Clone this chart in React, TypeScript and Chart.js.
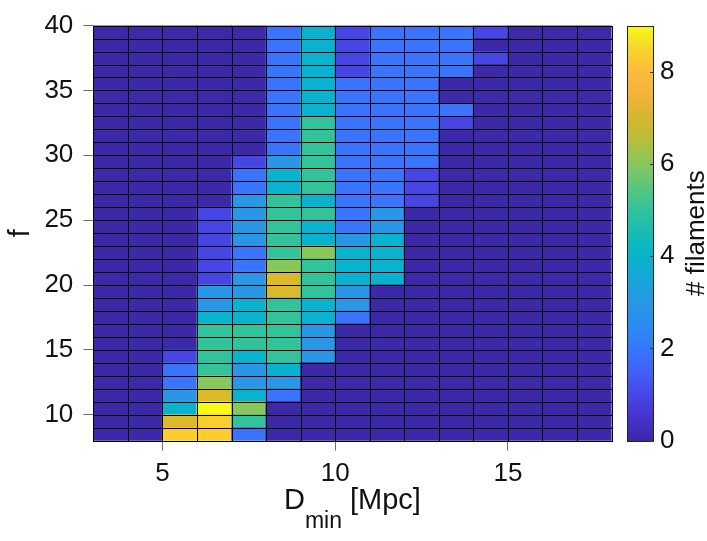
import React, { useEffect, useRef } from 'react';
import { Chart, registerables } from 'chart.js';

Chart.register(...registerables);

// ---- data ----
const D_MIN = [3.5, 4.5, 5.5, 6.5, 7.5, 8.5, 9.5, 10.5, 11.5, 12.5, 13.5, 14.5, 15.5, 16.5, 17.5];
const F_VALUES = [8.5, 9.5, 10.5, 11.5, 12.5, 13.5, 14.5, 15.5, 16.5, 17.5, 18.5, 19.5, 20.5, 21.5, 22.5, 23.5,
  24.5, 25.5, 26.5, 27.5, 28.5, 29.5, 30.5, 31.5, 32.5, 33.5, 34.5, 35.5, 36.5, 37.5, 38.5, 39.5];
const BIN_WIDTH = 1;
const X_TICKS = [5, 10, 15];
const Y_TICKS = [10, 15, 20, 25, 30, 35, 40];
const CB_TICKS = [0, 2, 4, 6, 8];
const CB_MAX = 9;
// one row per f bin (bottom to top), one value per D_min bin
const COUNTS = [
  [0, 0, 8, 8, 2, 0, 0, 0, 0, 0, 0, 0, 0, 0, 0],
  [0, 0, 7, 8, 5, 0, 0, 0, 0, 0, 0, 0, 0, 0, 0],
  [0, 0, 4, 9, 6, 0, 0, 0, 0, 0, 0, 0, 0, 0, 0],
  [0, 0, 3, 7, 4, 2, 0, 0, 0, 0, 0, 0, 0, 0, 0],
  [0, 0, 2, 6, 3, 3, 0, 0, 0, 0, 0, 0, 0, 0, 0],
  [0, 0, 2, 5, 3, 4, 0, 0, 0, 0, 0, 0, 0, 0, 0],
  [0, 0, 1, 5, 4, 5, 3, 0, 0, 0, 0, 0, 0, 0, 0],
  [0, 0, 0, 5, 5, 5, 3, 0, 0, 0, 0, 0, 0, 0, 0],
  [0, 0, 0, 5, 5, 5, 3, 0, 0, 0, 0, 0, 0, 0, 0],
  [0, 0, 0, 4, 4, 5, 4, 2, 0, 0, 0, 0, 0, 0, 0],
  [0, 0, 0, 3, 4, 5, 4, 3, 0, 0, 0, 0, 0, 0, 0],
  [0, 0, 0, 3, 3, 7, 5, 3, 0, 0, 0, 0, 0, 0, 0],
  [0, 0, 0, 1, 3, 7, 5, 4, 4, 0, 0, 0, 0, 0, 0],
  [0, 0, 0, 1, 2, 6, 5, 4, 4, 0, 0, 0, 0, 0, 0],
  [0, 0, 0, 1, 2, 5, 6, 4, 4, 0, 0, 0, 0, 0, 0],
  [0, 0, 0, 1, 3, 5, 4, 3, 4, 0, 0, 0, 0, 0, 0],
  [0, 0, 0, 1, 3, 5, 4, 2, 3, 0, 0, 0, 0, 0, 0],
  [0, 0, 0, 1, 3, 5, 5, 2, 3, 0, 0, 0, 0, 0, 0],
  [0, 0, 0, 0, 3, 5, 4, 2, 2, 1, 0, 0, 0, 0, 0],
  [0, 0, 0, 0, 2, 4, 5, 2, 2, 1, 0, 0, 0, 0, 0],
  [0, 0, 0, 0, 2, 4, 5, 2, 2, 1, 0, 0, 0, 0, 0],
  [0, 0, 0, 0, 1, 3, 5, 2, 2, 2, 0, 0, 0, 0, 0],
  [0, 0, 0, 0, 0, 2, 5, 2, 2, 2, 0, 0, 0, 0, 0],
  [0, 0, 0, 0, 0, 2, 5, 2, 2, 2, 0, 0, 0, 0, 0],
  [0, 0, 0, 0, 0, 2, 5, 2, 2, 2, 1, 0, 0, 0, 0],
  [0, 0, 0, 0, 0, 2, 4, 2, 2, 2, 2, 0, 0, 0, 0],
  [0, 0, 0, 0, 0, 2, 4, 2, 2, 2, 0, 0, 0, 0, 0],
  [0, 0, 0, 0, 0, 2, 4, 2, 2, 2, 0, 0, 0, 0, 0],
  [0, 0, 0, 0, 0, 2, 4, 1, 2, 2, 2, 0, 0, 0, 0],
  [0, 0, 0, 0, 0, 2, 4, 1, 2, 2, 2, 1, 0, 0, 0],
  [0, 0, 0, 0, 0, 2, 4, 1, 2, 2, 2, 0, 0, 0, 0],
  [0, 0, 0, 0, 0, 2, 4, 1, 2, 2, 2, 1, 0, 0, 0],
];

// ---- styles ----
const CELL_COLORS = ['#3d28a7', '#4745e4', '#3a73fc', '#2996e6', '#09b3cf', '#33c39b', '#87c85a', '#dbb92b', '#fdcd30', '#f8fa12'];
const CB_STOPS: [number, string][] = [
  [0, '#3e26a8'], [0.5, '#4434cc'], [1, '#4747e8'], [1.5, '#4160fa'], [2, '#3478fb'], [2.5, '#2a8cf0'],
  [3, '#2898e4'], [3.5, '#17a6da'], [4, '#07b3cc'], [4.5, '#18bbb3'], [5, '#33c29b'], [5.5, '#5ac67c'],
  [6, '#86c75c'], [6.5, '#b5bf3c'], [7, '#d6b62e'], [7.5, '#f4b23a'], [8, '#fcbc3a'], [8.5, '#f6d52c'], [9, '#f8fa12'],
];
const FONT = '"Liberation Sans", Arial, Helvetica, sans-serif';
const TICK_SIZE = 26;
const LABEL_SIZE = 29;
const TEXT_COLOR = '#111';

const cellGridPlugin = {
  id: 'cellGrid',
  afterDatasetsDraw(chart: any) {
    const { ctx, scales } = chart;
    const xs = scales.x, ys = scales.y;
    const xEdges = [D_MIN[0] - BIN_WIDTH / 2, ...D_MIN.map((d) => d + BIN_WIDTH / 2)];
    const yEdges = [F_VALUES[0] - BIN_WIDTH / 2, ...F_VALUES.map((f) => f + BIN_WIDTH / 2)];
    const x0 = Math.round(xs.getPixelForValue(xEdges[0]));
    const x1 = Math.round(xs.getPixelForValue(xEdges[xEdges.length - 1]));
    const y0 = Math.round(ys.getPixelForValue(yEdges[yEdges.length - 1]));
    const y1 = Math.round(ys.getPixelForValue(yEdges[0]));
    ctx.save();
    ctx.strokeStyle = '#000';
    ctx.lineWidth = 1;
    ctx.beginPath();
    xEdges.forEach((e) => {
      const p = Math.round(xs.getPixelForValue(e)) + 0.5;
      ctx.moveTo(p, y0);
      ctx.lineTo(p, y1 + 1);
    });
    yEdges.forEach((e) => {
      const p = Math.round(ys.getPixelForValue(e)) + 0.5;
      ctx.moveTo(x0, p);
      ctx.lineTo(x1 + 1, p);
    });
    ctx.stroke();
    ctx.restore();
  },
};

const overlayPlugin = {
  id: 'overlay',
  afterDraw(chart: any) {
    const { ctx, chartArea } = chart;
    ctx.save();
    // x-axis label with subscript
    const cx = (chartArea.left + chartArea.right) / 2;
    const baseY = 509;
    const subSize = Math.round(LABEL_SIZE * 0.78);
    ctx.fillStyle = TEXT_COLOR;
    ctx.textBaseline = 'alphabetic';
    ctx.textAlign = 'left';
    ctx.font = `${LABEL_SIZE}px ${FONT}`;
    const wD = ctx.measureText('D').width;
    const wRest = ctx.measureText(' [Mpc]').width;
    ctx.font = `${subSize}px ${FONT}`;
    const wSub = ctx.measureText('min').width;
    let x = cx - (wD + wSub + wRest) / 2;
    ctx.font = `${LABEL_SIZE}px ${FONT}`;
    ctx.fillText('D', x, baseY);
    x += wD;
    ctx.font = `${subSize}px ${FONT}`;
    ctx.fillText('min', x, baseY + 19);
    x += wSub;
    ctx.font = `${LABEL_SIZE}px ${FONT}`;
    ctx.fillText(' [Mpc]', x, baseY);

    // colorbar
    const cbL = 627, cbR = 654;
    const top = chartArea.top, bottom = chartArea.bottom;
    const valToY = (v: number) => bottom - (v / CB_MAX) * (bottom - top);
    const grad = ctx.createLinearGradient(0, bottom, 0, top);
    CB_STOPS.forEach(([v, c]) => grad.addColorStop(v / CB_MAX, c));
    ctx.fillStyle = grad;
    ctx.fillRect(cbL, Math.round(top), cbR - cbL, Math.round(bottom) - Math.round(top));
    ctx.strokeStyle = '#222';
    ctx.lineWidth = 1;
    ctx.strokeRect(cbL + 0.5, Math.round(top) + 0.5, cbR - cbL - 1, Math.round(bottom) - Math.round(top));
    ctx.strokeStyle = '#333';
    ctx.font = `${TICK_SIZE}px ${FONT}`;
    ctx.fillStyle = TEXT_COLOR;
    ctx.textAlign = 'left';
    ctx.textBaseline = 'middle';
    CB_TICKS.forEach((v) => {
      const y = Math.round(valToY(v)) + 0.5;
      ctx.beginPath();
      ctx.moveTo(cbR - 4, y);
      ctx.lineTo(cbR, y);
      ctx.stroke();
      ctx.fillText(String(v), cbR + 6, valToY(v));
    });
    ctx.save();
    ctx.translate(697, (top + bottom) / 2);
    ctx.rotate(-Math.PI / 2);
    ctx.textAlign = 'center';
    ctx.textBaseline = 'middle';
    ctx.font = `${TICK_SIZE}px ${FONT}`;
    ctx.fillText('# filaments', 0, 0);
    ctx.restore();
    ctx.restore();
  },
};

export default function App() {
  const canvasRef = useRef<HTMLCanvasElement | null>(null);

  useEffect(() => {
    if (!canvasRef.current) return;
    const datasets = F_VALUES.map((f, ri) => ({
      type: 'bar' as const,
      data: D_MIN.map((d, ci) => ({ x: d, y: [f - BIN_WIDTH / 2, f + BIN_WIDTH / 2], v: COUNTS[ri][ci] })),
      backgroundColor: (ctx: any) => (ctx.raw ? CELL_COLORS[ctx.raw.v] : CELL_COLORS[0]),
      borderWidth: 0,
      borderSkipped: false,
      grouped: false,
      barPercentage: 1,
      categoryPercentage: 1,
      inflateAmount: 0.5,
    }));

    const chart = new Chart(canvasRef.current, {
      type: 'bar',
      data: { datasets },
      options: {
        animation: false,
        responsive: false,
        maintainAspectRatio: false,
        layout: { padding: { top: 18.3, right: 95.4, left: 0, bottom: 0 } },
        plugins: { legend: { display: false }, tooltip: { enabled: false } },
        scales: {
          x: {
            type: 'linear',
            min: 3,
            max: 18,
            offset: false,
            afterBuildTicks: (s: any) => { s.ticks = X_TICKS.map((value) => ({ value })); },
            afterFit: (s: any) => { s.height = 100.3; },
            grid: { drawOnChartArea: false, drawTicks: true, tickLength: 10, color: '#707070', offset: false },
            border: { display: false },
            ticks: { font: { family: FONT, size: TICK_SIZE }, color: TEXT_COLOR, padding: 8, maxRotation: 0 },
          },
          y: {
            type: 'linear',
            min: 8,
            max: 40,
            afterBuildTicks: (s: any) => { s.ticks = Y_TICKS.map((value) => ({ value })); },
            afterFit: (s: any) => { s.width = 93.3; },
            grid: { drawOnChartArea: false, drawTicks: true, tickLength: 10, color: '#707070' },
            border: { display: false },
            ticks: { font: { family: FONT, size: TICK_SIZE }, color: TEXT_COLOR, padding: 10 },
            title: { display: true, text: 'f', font: { family: FONT, size: LABEL_SIZE }, color: TEXT_COLOR, padding: 4 },
          },
        },
      },
      plugins: [cellGridPlugin, overlayPlugin],
    } as any);
    return () => chart.destroy();
  }, []);

  return (
    <div style={{ position: 'fixed', left: 0, top: 0, width: 707, height: 541, background: '#fff' }}>
      <canvas ref={canvasRef} width={707} height={541} style={{ display: 'block' }} />
    </div>
  );
}
